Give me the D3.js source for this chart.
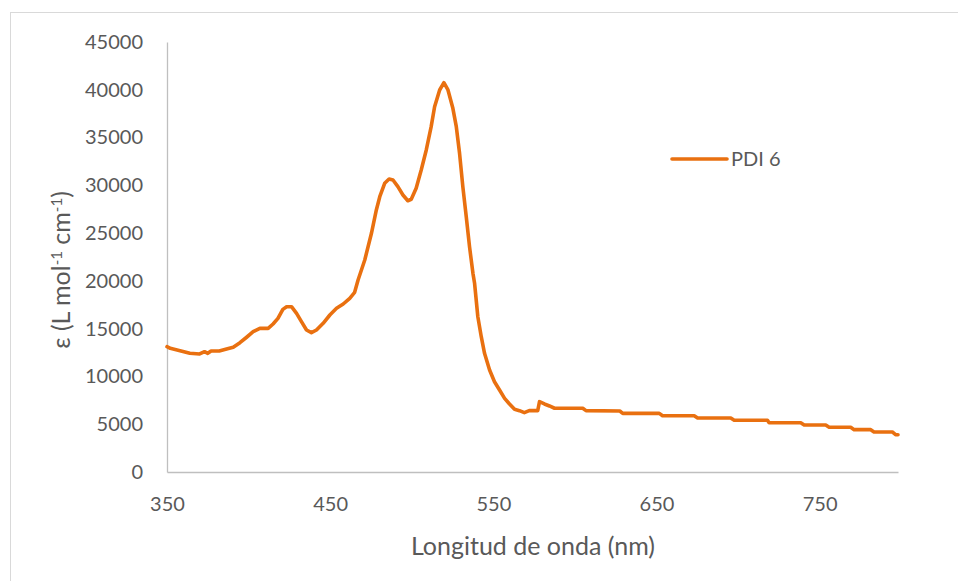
<!DOCTYPE html>
<html><head><meta charset="utf-8">
<script src="https://cdn.jsdelivr.net/npm/d3@7"></script>
<style>body{margin:0;background:#fff;}svg{display:block;}</style>
</head><body>
<script>
const seriesName = "PDI 6";
const wavelength = [350,352,358,364,370,373,375,377,382,386.5,390.6,394.7,398.8,402.8,406.9,412,415,418,421,423.3,426.3,429.4,432.4,435.5,438.5,441.6,445.7,449.8,453.9,458,462,465,467.1,471.2,475.3,478.3,480.4,483.4,486.1,488.5,491.5,494.6,497.6,499.7,502.7,505.8,508.9,511.9,514,517.1,519.7,522.2,525.2,527.3,529.3,531.3,533.4,535.4,537.5,538.5,540.5,542.6,544.6,547.7,550.7,553.8,556.9,559.9,563,566,569,572,577.2,578.3,581.3,584.4,587.5,604.8,606.8,627.5,629.3,631.3,651.7,653.7,673.1,675.2,695.5,697.6,718,719,738.4,740.5,753.7,755.8,769,771.1,781.3,783.3,794.5,796.5,798];
const epsilon = [13110,12940,12700,12420,12350,12590,12420,12660,12660,12870,13050,13530,14100,14680,15030,15030,15490,16080,17020,17300,17300,16600,15730,14860,14580,14860,15560,16430,17130,17580,18180,18800,20090,22190,24980,27420,28810,30210,30660,30560,29860,28990,28390,28540,29690,31600,33700,36140,38230,39980,40740,39980,38060,36140,33350,29860,26720,23580,20790,19750,16250,14160,12420,10670,9450,8580,7710,7120,6560,6420,6210,6420,6420,7360,7120,6910,6670,6670,6420,6380,6140,6140,6140,5890,5890,5650,5650,5410,5410,5160,5160,4920,4920,4680,4680,4430,4430,4190,4190,3900,3900];
const xTicks = [350,450,550,650,750];
const yTicks = [0,5000,10000,15000,20000,25000,30000,35000,40000,45000];

const W = 958, H = 581;
const svg = d3.select("body").append("svg").attr("width", W).attr("height", H);
const font = "Lato, 'Open Sans', sans-serif";
const textColor = "#595959";
const axisColor = "#bfbfbf";

// chart frame (top and left edges visible)
svg.append("line").attr("x1",10).attr("y1",12.5).attr("x2",W).attr("y2",12.5).attr("stroke","#d9d9d9").attr("stroke-width",1);
svg.append("line").attr("x1",10.5).attr("y1",12).attr("x2",10.5).attr("y2",H).attr("stroke","#d9d9d9").attr("stroke-width",1);

const x = d3.scaleLinear().domain([350, 798]).range([167, 898]);
const y = d3.scaleLinear().domain([0, 45000]).range([472, 42]);

// axes
const xAxis = svg.append("g").attr("transform","translate(0,472)")
  .call(d3.axisBottom(x).tickValues(xTicks).tickSize(0).tickPadding(22).tickFormat(d3.format("d")));
const yAxis = svg.append("g").attr("transform","translate(167,0)")
  .call(d3.axisLeft(y).tickValues(yTicks).tickSize(0).tickPadding(24).tickFormat(d3.format("d")));
[xAxis, yAxis].forEach(g => {
  g.select(".domain").attr("stroke", axisColor).attr("stroke-width", 1.3);
  g.selectAll("text").attr("fill", textColor).style("font-family", font).style("font-size", "20px");
});
xAxis.selectAll("text").attr("dy", "0.35em").attr("y", 32);

// line
const line = d3.line().x((d,i)=>x(wavelength[i])).y(d=>y(d));
svg.append("path").datum(epsilon).attr("d", line)
  .attr("fill","none").attr("stroke","#E97010").attr("stroke-width",3.6)
  .attr("stroke-linejoin","round").attr("stroke-linecap","round");

// x title
svg.append("text").attr("x",533).attr("y",546).attr("dy","0.35em").attr("text-anchor","middle")
  .attr("fill",textColor).style("font-family",font).style("font-size","25px")
  .text("Longitud de onda (nm)");

// y title
const yt = svg.append("text").attr("transform","translate(61,270) rotate(-90)")
  .attr("dy","0.35em")
  .attr("text-anchor","middle").attr("fill",textColor)
  .style("font-family",font).style("font-size","25px");
yt.append("tspan").attr("dy","0.35em").text("ε (L mol");
yt.append("tspan").attr("dy",-8).style("font-size","15px").text("-1");
yt.append("tspan").attr("dy",8).text(" cm");
yt.append("tspan").attr("dy",-8).style("font-size","15px").text("-1");
yt.append("tspan").attr("dy",8).text(")");

// legend
svg.append("line").attr("x1",672).attr("x2",727).attr("y1",159).attr("y2",159)
  .attr("stroke","#E97010").attr("stroke-width",3.6).attr("stroke-linecap","round");
svg.append("text").attr("x",731).attr("y",159).attr("dy","0.35em")
  .attr("fill",textColor).style("font-family",font).style("font-size","20px").text(seriesName);
</script>
</body></html>
